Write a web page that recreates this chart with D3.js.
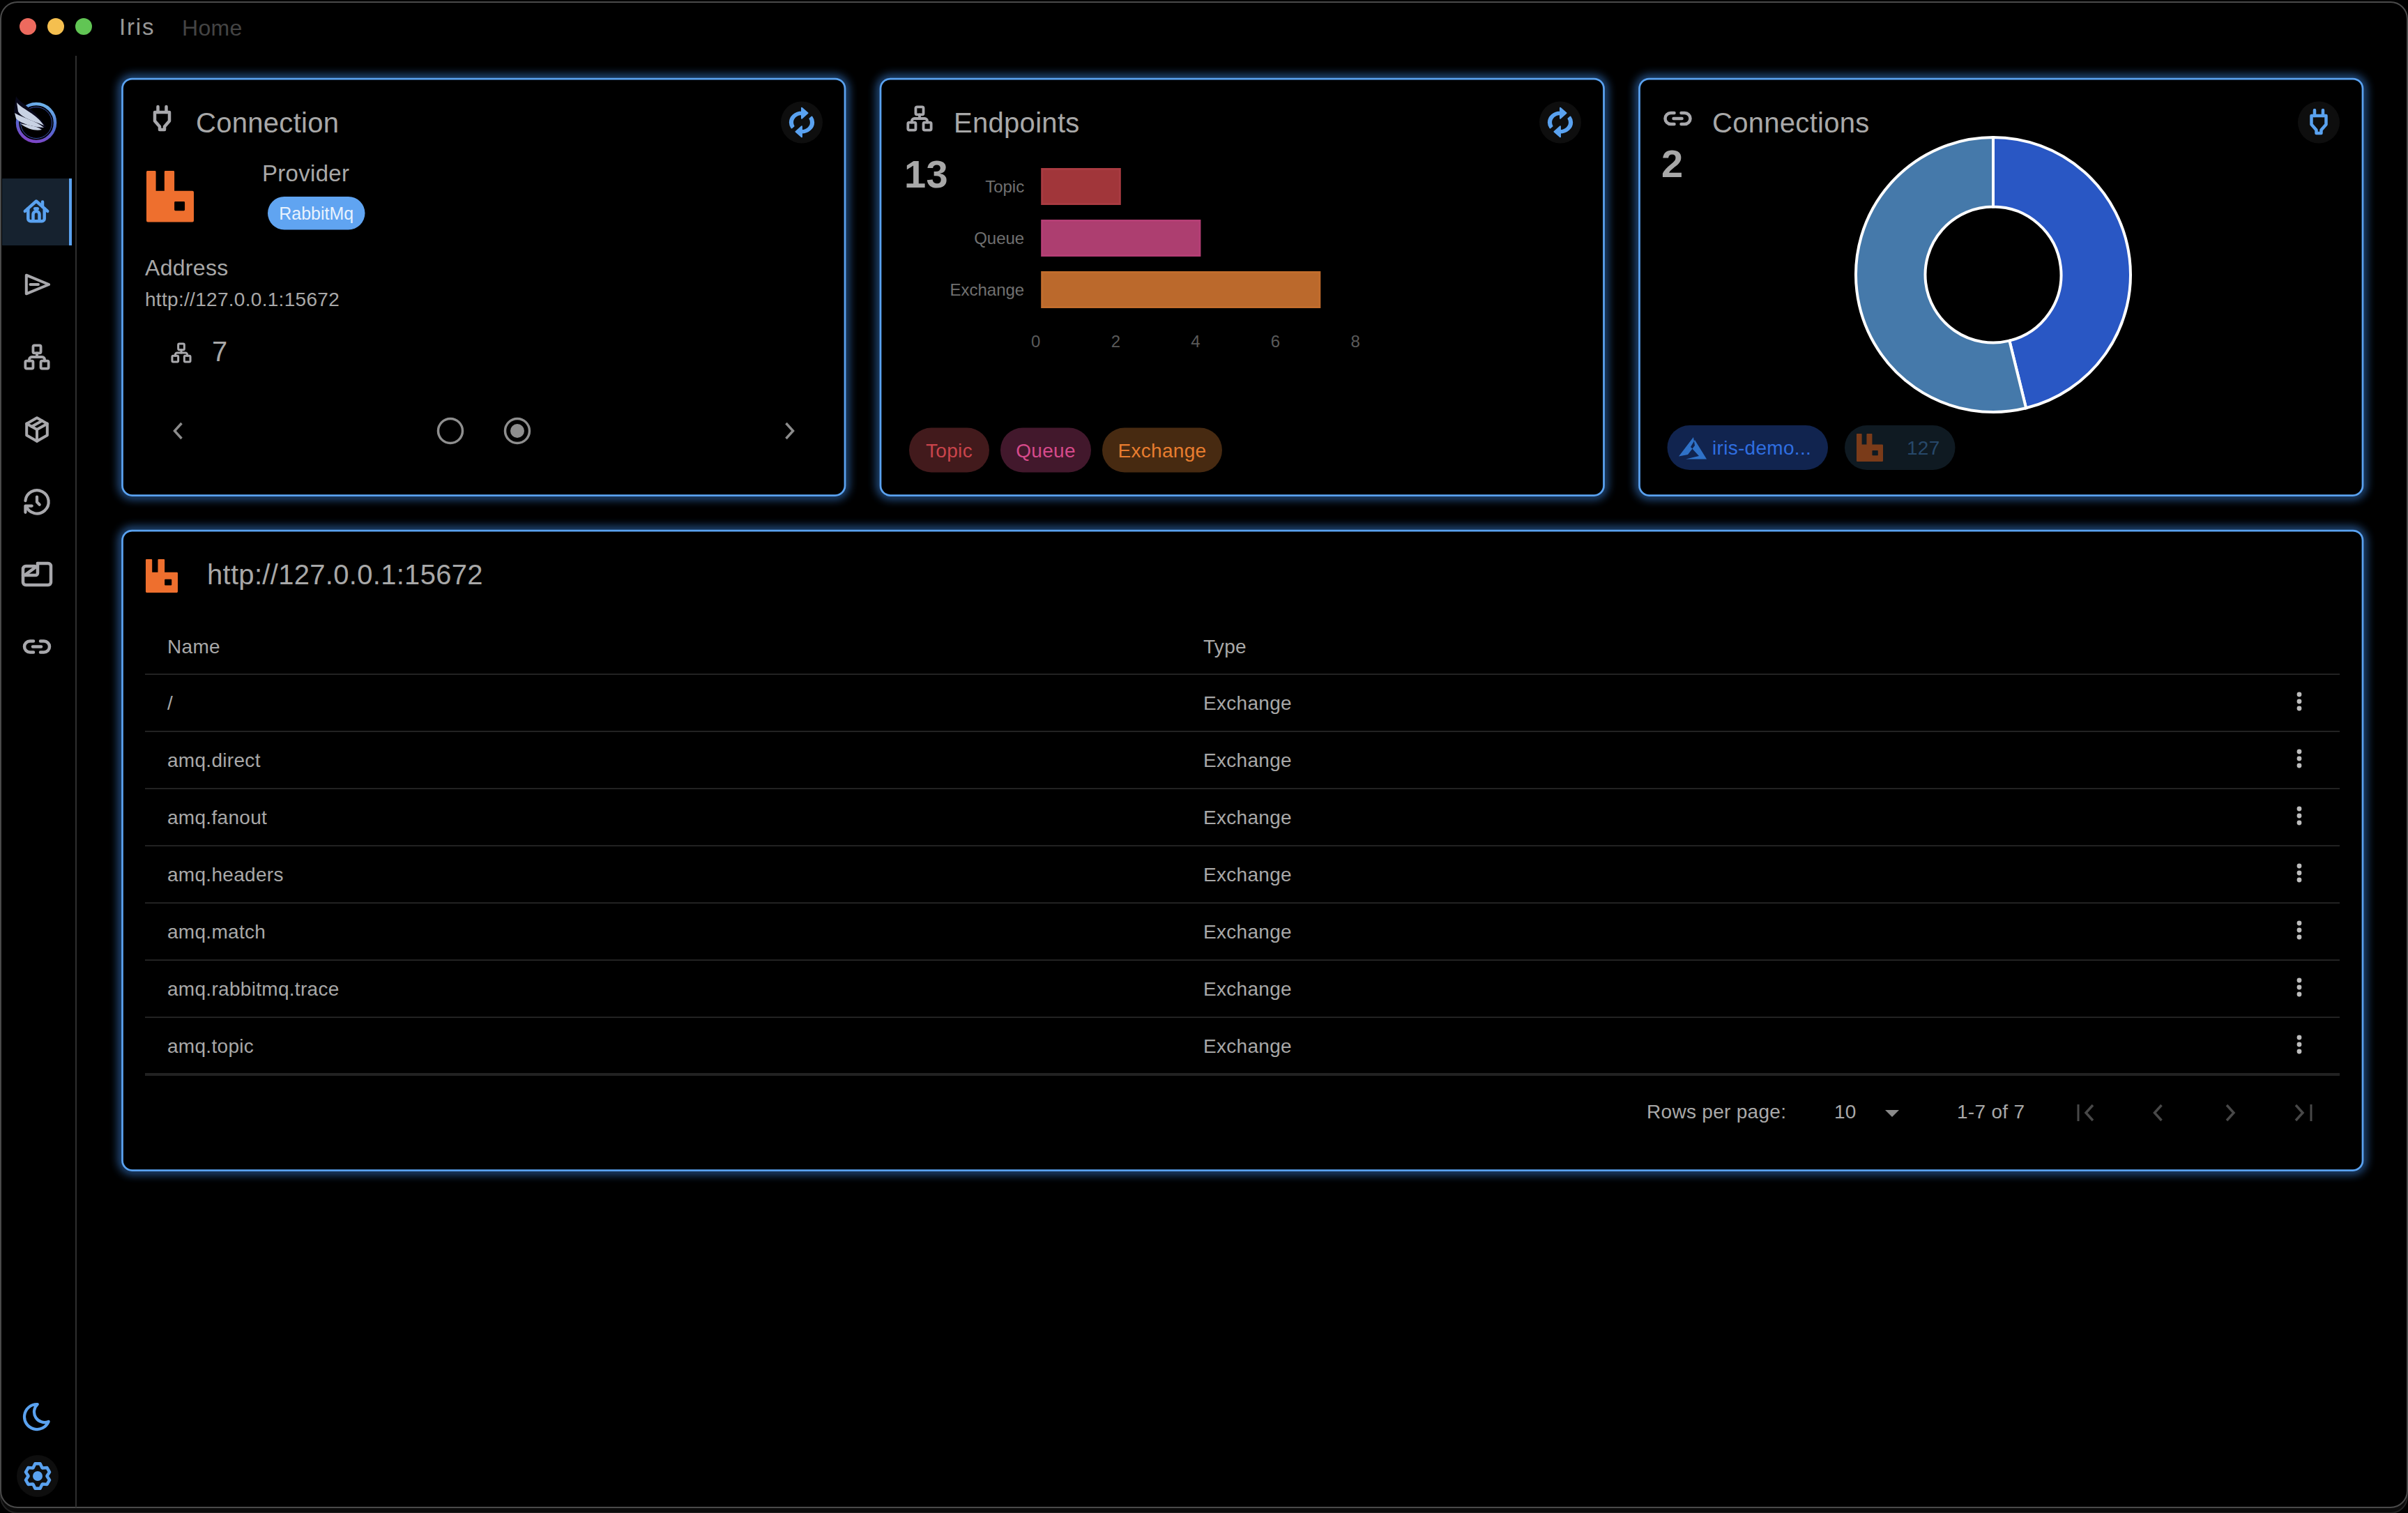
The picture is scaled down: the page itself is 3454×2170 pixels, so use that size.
<!DOCTYPE html>
<html lang="en">
<head>
	<meta charset="UTF-8">
	<title>Iris - Home</title>
	<script src="https://cdn.jsdelivr.net/npm/d3@7"></script>
	<style>
		html, body { margin: 0; padding: 0; background: #000; }
		svg { display: block; }
		text { font-family: "Liberation Sans", Arial, sans-serif; letter-spacing: 0.3px; }
		.axis text { letter-spacing: 0; }
		.axis path, .axis line { display: none; }
	</style>
</head>
<body>
	<div id="container"></div>
	<script>
		// chart data
		var endpointTypes = ["Topic", "Queue", "Exchange"];
		var endpointCounts = [2, 4, 7];
		var endpointTicks = [0, 2, 4, 6, 8];
		var connectionNames = ["iris-demo...", "127"];
		var connectionCounts = [6, 7];

		// table data
		var rowNames = ["/", "amq.direct", "amq.fanout", "amq.headers", "amq.match", "amq.rabbitmq.trace", "amq.topic"];
		var rowTypes = ["Exchange", "Exchange", "Exchange", "Exchange", "Exchange", "Exchange", "Exchange"];

		var width = 3454, height = 2170;
		var blue = "#5aa2f0", grey = "#a8a8a8", iconGrey = "#a8a8ac";

		var barFill = { Topic: "#a1363a", Queue: "#ad3e70", Exchange: "#bb692c" };
		var barStroke = { Topic: "#a93b41", Queue: "#b53f75", Exchange: "#c26d2d" };
		var chipBg = { Topic: "#421a1c", Queue: "#42182c", Exchange: "#472a11" };
		var chipText = { Topic: "#c9444b", Queue: "#d64a8b", Exchange: "#e77d2f" };
		var donutFill = ["#2957c4", "#4579aa"];

		// icon outlines, 24 box unless noted
		var icons = {
			home: ["M3 12.5l9-8 9 8", "M5.5 10.5v8a2 2 0 0 0 2 2h9a2 2 0 0 0 2-2v-8", "M9.5 20v-5a2.5 2.5 0 0 1 5 0v5", "M17 5v4", "M11 10.5h2"],
			send: ["M4 5l17 7-17 7z", "M7 12h6"],
			sitemap: ["M3 16a1 1 0 0 1 1-1h4a1 1 0 0 1 1 1v4a1 1 0 0 1-1 1h-4a1 1 0 0 1-1-1z", "M15 16a1 1 0 0 1 1-1h4a1 1 0 0 1 1 1v4a1 1 0 0 1-1 1h-4a1 1 0 0 1-1-1z", "M9 4a1 1 0 0 1 1-1h4a1 1 0 0 1 1 1v4a1 1 0 0 1-1 1h-4a1 1 0 0 1-1-1z", "M6 15v-1a2 2 0 0 1 2-2h8a2 2 0 0 1 2 2v1", "M12 9v3"],
			box: ["M12 3l8 4.5v9l-8 4.5-8-4.5v-9z", "M12 12l8-4.5", "M12 12v9", "M12 12l-8-4.5", "M16 5.25l-8 4.5"],
			history: ["M12 8v4l2 2", "M3.05 11a9 9 0 1 1 .5 4m-.5 5v-5h5"],
			moon: ["M12 3h.39a7.5 7.5 0 0 0 7.92 12.45a9 9 0 1 1-8.31-12.45z"]
		};
		// these are drawn straight in pixels around the centre
		var plugPaths = ["M-6-17v8", "M6-17v8", "M-10.5-9h21v12.5l-7 8v4.5h-7v-4.5l-7-8z"];
		var linkPaths = ["M-5-8h-5a8 8 0 0 0 0 16h5", "M5-8h5a8 8 0 0 1 0 16h-5", "M-6 0h12"];
		var dashPaths = ["M1-15.5h15a4 4 0 0 1 4 4v23a4 4 0 0 1-4 4h-32a4 4 0 0 1-4-4v-19a4 4 0 0 1 4-4h13", "M1-15.5v14a3 3 0 0 1-3 3h-18", "M-17 1L-2-10"];
		var autorenew = "M12 6v3l4-4-4-4v3c-4.42 0-8 3.58-8 8 0 1.57.46 3.03 1.24 4.26L6.7 14.8c-.45-.83-.7-1.79-.7-2.8 0-3.31 2.69-6 6-6zm6.76 1.74L17.3 9.2c.44.84.7 1.79.7 2.8 0 3.31-2.69 6-6 6v-3l-4 4 4 4v-3c4.42 0 8-3.58 8-8 0-1.57-.46-3.03-1.24-4.26z";
		var rabbit = "M2 0H18Q20 0 20 2V39H38V2Q38 0 40 0H57Q59 0 59 2V39H97Q100 39 100 42V97Q100 100 97 100H3Q0 100 0 97V3Q0 0 2 0ZM61 60Q59 60 59 62V76Q59 78 61 78H79Q81 78 81 76V62Q81 60 79 60Z";

		var svg = d3.select("#container").append("svg")
			.attr("width", width)
			.attr("height", height)
			.attr("viewBox", [0, 0, width, height]);

		var defs = svg.append("defs");
		defs.append("filter")
				.attr("id", "glow")
				.attr("x", "-10%").attr("y", "-10%")
				.attr("width", "120%").attr("height", "120%")
			.append("feGaussianBlur")
				.attr("stdDeviation", 7);
		var ringGrad = defs.append("linearGradient")
			.attr("id", "ring")
			.attr("x1", 0.7).attr("y1", 0)
			.attr("x2", 0.4).attr("y2", 1);
		ringGrad.append("stop").attr("offset", 0).attr("stop-color", "#6fb4ec");
		ringGrad.append("stop").attr("offset", 0.5).attr("stop-color", "#4d6fd2");
		ringGrad.append("stop").attr("offset", 1).attr("stop-color", "#7d45c6");

		// helpers
		function label(g, x, y, str, size, color, anchor, weight) {
			return g.append("text")
				.attr("x", x)
				.attr("y", y)
				.attr("font-size", size)
				.attr("fill", color)
				.attr("text-anchor", anchor || "start")
				.attr("font-weight", weight || 400)
				.text(str);
		}

		function strokeIcon(g, paths, cx, cy, scale, color, sw, boxed) {
			var off = boxed ? 12 : 0;
			var ig = g.append("g")
				.attr("transform", "translate(" + cx + "," + cy + ") scale(" + scale + ") translate(" + -off + "," + -off + ")");
			paths.forEach(function(p) {
				ig.append("path")
					.attr("d", p)
					.attr("fill", "none")
					.attr("stroke", color)
					.attr("stroke-width", sw / scale)
					.attr("stroke-linecap", "round")
					.attr("stroke-linejoin", "round");
			});
		}

		function rabbitIcon(g, x, y, w, h, color) {
			g.append("path")
				.attr("d", rabbit)
				.attr("fill", color)
				.attr("fill-rule", "evenodd")
				.attr("transform", "translate(" + x + "," + y + ") scale(" + w / 100 + "," + h / 100 + ")");
		}

		function card(x, y, w, h) {
			svg.append("rect")
				.attr("x", x).attr("y", y)
				.attr("width", w).attr("height", h)
				.attr("rx", 14)
				.attr("fill", "none")
				.attr("stroke", "#3f8ff0")
				.attr("stroke-width", 8)
				.attr("opacity", 0.85)
				.attr("filter", "url(#glow)");
			svg.append("rect")
				.attr("x", x).attr("y", y)
				.attr("width", w).attr("height", h)
				.attr("rx", 14)
				.attr("fill", "#000")
				.attr("stroke", blue)
				.attr("stroke-width", 2.75);
		}

		function iconButton(cx, cy) {
			svg.append("circle")
				.attr("cx", cx).attr("cy", cy)
				.attr("r", 30)
				.attr("fill", "#0e0e0e");
		}

		function refreshButton(cx, cy) {
			iconButton(cx, cy);
			svg.append("path")
				.attr("d", autorenew)
				.attr("fill", blue)
				.attr("stroke", blue)
				.attr("stroke-width", 0.9)
				.attr("stroke-linejoin", "round")
				.attr("transform", "translate(" + cx + "," + cy + ") scale(2.15,1.9) translate(-12,-12)");
		}

		function chip(x, y, w, h, bg) {
			svg.append("rect")
				.attr("x", x).attr("y", y)
				.attr("width", w).attr("height", h)
				.attr("rx", h / 2)
				.attr("fill", bg);
		}

		function chevron(cx, cy, dir, color) {
			svg.append("path")
				.attr("d", "M" + (cx - dir * 5) + " " + (cy - 11) + "L" + (cx + dir * 5) + " " + cy + "L" + (cx - dir * 5) + " " + (cy + 11))
				.attr("fill", "none")
				.attr("stroke", color)
				.attr("stroke-width", 3.5);
		}

		// window frame
		svg.append("rect")
			.attr("x", 1).attr("y", 6)
			.attr("width", width - 2).attr("height", height - 6)
			.attr("rx", 24)
			.attr("fill", "#0b0b0b")
			.attr("stroke", "#222")
			.attr("stroke-width", 2);
		svg.append("rect")
			.attr("x", 1).attr("y", 3)
			.attr("width", width - 2).attr("height", 2159)
			.attr("rx", 24)
			.attr("fill", "#000")
			.attr("stroke", "#4a4a4a")
			.attr("stroke-width", 2);

		// title bar
		[["#ed6a5e", 40], ["#f5bf4f", 80], ["#61c554", 120]].forEach(function(d) {
			svg.append("circle")
				.attr("cx", d[1]).attr("cy", 38)
				.attr("r", 12)
				.attr("fill", d[0]);
		});
		label(svg, 171, 50, "Iris", 33, "#989898").style("letter-spacing", "1.8px");
		label(svg, 261, 51, "Home", 32, "#444");

		// sidebar
		svg.append("line")
			.attr("x1", 109).attr("x2", 109)
			.attr("y1", 80).attr("y2", 2162)
			.attr("stroke", "#2e2e2e")
			.attr("stroke-width", 2);
		svg.append("rect")
			.attr("x", 3).attr("y", 256)
			.attr("width", 100).attr("height", 96)
			.attr("fill", "#16222f");
		svg.append("rect")
			.attr("x", 99).attr("y", 256)
			.attr("width", 4).attr("height", 96)
			.attr("fill", blue);

		// logo
		var logo = svg.append("g");
		logo.append("circle")
			.attr("cx", 52).attr("cy", 176)
			.attr("r", 27)
			.attr("fill", "none")
			.attr("stroke", "url(#ring)")
			.attr("stroke-width", 4.5);
		logo.append("circle")
			.attr("cx", 52).attr("cy", 176)
			.attr("r", 22.5)
			.attr("fill", "none")
			.attr("stroke", "#3a4fa8")
			.attr("stroke-width", 1);
		logo.append("path")
			.attr("d", "M23 138C30 150 50 155 66 182C52 190 30 186 20 160Z")
			.attr("fill", "#08081a");
		[
			"M24 147C34 158 52 163 63 180C50 174 32 170 26 160Z",
			"M21 162C34 170 50 172 63 183C48 182 30 178 23 170Z",
			"M29 177C40 180 52 180 60 186C52 188 40 186 29 177Z"
		].forEach(function(p) {
			logo.append("path")
				.attr("d", p)
				.attr("fill", "#c8d2e4");
		});

		strokeIcon(svg, icons.home, 52, 302, 1.8, blue, 4.5, true);
		strokeIcon(svg, icons.send, 53, 408, 1.9, iconGrey, 4, true);
		strokeIcon(svg, icons.sitemap, 53, 512, 1.85, iconGrey, 3.8, true);
		strokeIcon(svg, icons.box, 53, 616, 1.85, iconGrey, 4, true);
		strokeIcon(svg, icons.history, 53, 720, 1.85, iconGrey, 4.2, true);
		strokeIcon(svg, dashPaths, 53, 823.5, 1, iconGrey, 4.5);
		strokeIcon(svg, linkPaths, 53, 927.5, 1, iconGrey, 4.5);
		strokeIcon(svg, icons.moon, 53, 2032, 2, blue, 4.2, true);

		iconButton(54, 2117);
		var gearPts = [];
		d3.range(6).forEach(function(i) {
			var a = i * Math.PI / 3;
			gearPts.push([a - 0.2, 18], [a + 0.2, 18], [a + 0.5, 13.5]);
			gearPts.push([a + Math.PI / 3 - 0.5, 13.5]);
		});
		svg.append("path")
			.attr("d", d3.lineRadial().curve(d3.curveLinearClosed)(gearPts))
			.attr("transform", "translate(54,2117)")
			.attr("fill", "none")
			.attr("stroke", blue)
			.attr("stroke-width", 4.5)
			.attr("stroke-linejoin", "round");
		svg.append("circle")
			.attr("cx", 54).attr("cy", 2117)
			.attr("r", 7)
			.attr("fill", blue);

		// connection card
		card(175.5, 113, 1036.5, 597.5);
		strokeIcon(svg, plugPaths, 232.5, 170, 1, iconGrey, 4.5);
		label(svg, 281, 190, "Connection", 40, grey);
		refreshButton(1150, 175.5);
		rabbitIcon(svg, 210, 245, 68, 73.5, "#ee6f2e");
		label(svg, 376, 260, "Provider", 33, grey);
		chip(384, 282, 139.5, 47.5, "#60a4f1");
		label(svg, 453.7, 315, "RabbitMq", 25, "#e8f2fe", "middle").style("letter-spacing", "0");
		label(svg, 208, 395, "Address", 32, grey);
		label(svg, 208, 439, "http://127.0.0.1:15672", 28, grey);
		strokeIcon(svg, icons.sitemap, 260, 506, 1.45, iconGrey, 3, true);
		label(svg, 304, 518, String(endpointCounts[2]), 40, grey);
		chevron(255.5, 618, -1, "#8c8c8c");
		chevron(1132.5, 618, 1, "#8c8c8c");
		[646, 742].forEach(function(cx, i) {
			svg.append("circle")
				.attr("cx", cx).attr("cy", 618)
				.attr("r", 17.5)
				.attr("fill", "none")
				.attr("stroke", "#8e8e8e")
				.attr("stroke-width", 3.5);
			if (i == 1) {
				svg.append("circle")
					.attr("cx", cx).attr("cy", 618)
					.attr("r", 10)
					.attr("fill", "#8e8e8e");
			}
		});

		// endpoints card
		card(1263, 113, 1037.5, 597.5);
		strokeIcon(svg, icons.sitemap, 1319, 170, 1.85, iconGrey, 3.8, true);
		label(svg, 1368, 190, "Endpoints", 40, grey);
		refreshButton(2238, 175.5);
		label(svg, 1297, 269, String(d3.sum(endpointCounts)), 56, grey, "start", 700);

		var xScale = d3.scaleLinear()
			.domain([0, 8])
			.range([1493.2, 1951.6]);
		var yScale = d3.scaleBand()
			.domain(endpointTypes)
			.range([241, 442])
			.paddingInner(0.284);

		svg.selectAll(".bar")
			.data(endpointTypes)
			.enter().append("rect")
				.attr("class", "bar")
				.attr("x", xScale(0) + 1.5)
				.attr("y", function(d) { return yScale(d) + 1.5; })
				.attr("width", function(d, i) { return xScale(endpointCounts[i]) - xScale(0) - 3; })
				.attr("height", yScale.bandwidth() - 3)
				.attr("fill", function(d) { return barFill[d]; })
				.attr("stroke", function(d) { return barStroke[d]; })
				.attr("stroke-width", 3);

		var yAxis = svg.append("g")
			.attr("class", "axis")
			.attr("transform", "translate(" + xScale(0) + ",1)")
			.call(d3.axisLeft(yScale).tickSize(0).tickPadding(24));
		yAxis.selectAll("text")
			.attr("font-size", 24)
			.attr("fill", "#707070");
		var xAxis = svg.append("g")
			.attr("class", "axis")
			.attr("transform", "translate(-8,471)")
			.call(d3.axisBottom(xScale).tickValues(endpointTicks).tickSize(0).tickPadding(10));
		xAxis.selectAll("text")
			.attr("font-size", 24)
			.attr("fill", "#5a5a5a");

		var chipBoxes = [[1304, 115], [1435, 130], [1581, 172]];
		endpointTypes.forEach(function(t, i) {
			chip(chipBoxes[i][0], 613.5, chipBoxes[i][1], 64, chipBg[t]);
			label(svg, chipBoxes[i][0] + chipBoxes[i][1] / 2, 656, t, 28, chipText[t], "middle");
		});

		// connections card
		card(2351.5, 113, 1037.5, 597.5);
		strokeIcon(svg, linkPaths, 2406.5, 170, 1, iconGrey, 4.5);
		label(svg, 2456, 190, "Connections", 40, grey);
		iconButton(3326, 175.5);
		strokeIcon(svg, plugPaths, 3326, 175, 1, blue, 4.5);
		label(svg, 2383, 254, String(connectionCounts.length), 56, grey, "start", 700);

		var pie = d3.pie().sort(null)(connectionCounts);
		var arc = d3.arc().innerRadius(97.5).outerRadius(197);
		svg.append("g")
			.attr("transform", "translate(2859,394)")
			.selectAll("path")
			.data(pie)
			.enter().append("path")
				.attr("d", arc)
				.attr("fill", function(d, i) { return donutFill[i]; })
				.attr("stroke", "#fff")
				.attr("stroke-width", 4);

		chip(2391.5, 610, 230.5, 64, "#11244f");
		svg.append("path")
			.attr("d", "M21 0L0 27.5L13 25L23 12ZM23 4L40 31.5L10 31.5L29 27L17 14Z")
			.attr("transform", "translate(2408,627)")
			.attr("fill", "#2f72c8");
		label(svg, 2456, 652, connectionNames[0], 28, "#2f6ee0");
		chip(2646, 610, 158.5, 64, "#0f1a22");
		rabbitIcon(svg, 2663, 622, 38, 40, "#7a3b19");
		label(svg, 2735, 652, connectionNames[1], 28, "#27486a");

		// table card
		card(175.5, 761, 3213.5, 917.5);
		rabbitIcon(svg, 209, 802, 46, 48, "#ee6f2e");
		label(svg, 297, 838, "http://127.0.0.1:15672", 40, grey);
		label(svg, 240, 937, "Name", 28, grey);
		label(svg, 1726, 937, "Type", 28, grey);

		var rowScale = d3.scaleBand()
			.domain(d3.range(rowNames.length))
			.range([967, 1541]);

		svg.append("line")
			.attr("x1", 208).attr("x2", 3356)
			.attr("y1", rowScale.range()[0]).attr("y2", rowScale.range()[0])
			.attr("stroke", "#222")
			.attr("stroke-width", 2);

		var rows = svg.selectAll(".row")
			.data(rowNames)
			.enter().append("g")
				.attr("class", "row")
				.attr("transform", function(d, i) { return "translate(0," + rowScale(i) + ")"; });
		rows.append("text")
			.attr("x", 240).attr("y", 51)
			.attr("font-size", 28)
			.attr("fill", grey)
			.text(function(d) { return d; });
		rows.append("text")
			.attr("x", 1726).attr("y", 51)
			.attr("font-size", 28)
			.attr("fill", grey)
			.text(function(d, i) { return rowTypes[i]; });
		rows.append("line")
			.attr("x1", 208).attr("x2", 3356)
			.attr("y1", rowScale.bandwidth()).attr("y2", rowScale.bandwidth())
			.attr("stroke", "#222")
			.attr("stroke-width", function(d, i) { return i == rowNames.length - 1 ? 4 : 2; });
		[29, 39, 49].forEach(function(dy) {
			rows.append("circle")
				.attr("cx", 3298).attr("cy", dy)
				.attr("r", 3.4)
				.attr("fill", "#bdbdbd");
		});

		// pager
		label(svg, 2362, 1604, "Rows per page:", 28, grey);
		label(svg, 2631, 1604, "10", 28, grey);
		svg.append("path")
			.attr("d", "M2704 1592h20l-10 10z")
			.attr("fill", "#8a8a8a");
		label(svg, 2807, 1604, "1-7 of 7", 28, grey);
		var pagerColor = "#484848";
		chevron(2997, 1596, -1, pagerColor);
		chevron(3095.5, 1596, -1, pagerColor);
		chevron(3199, 1596, 1, pagerColor);
		chevron(3298, 1596, 1, pagerColor);
		[2981, 3315].forEach(function(x) {
			svg.append("line")
				.attr("x1", x).attr("x2", x)
				.attr("y1", 1584).attr("y2", 1608)
				.attr("stroke", pagerColor)
				.attr("stroke-width", 3);
		});
	</script>
</body>
</html>
